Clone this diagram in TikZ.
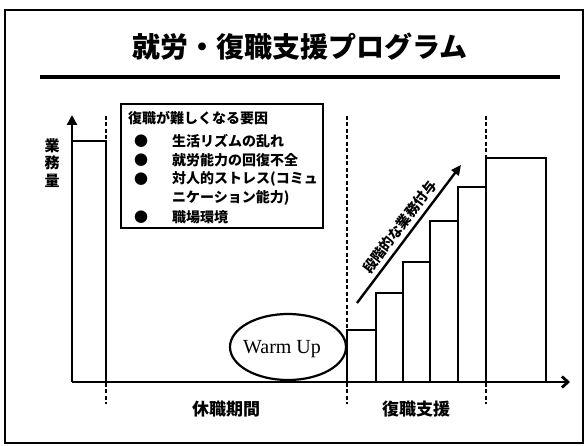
\documentclass[tikz,border=0pt]{standalone}
\usepackage{fontspec}
\setmainfont{Liberation Serif}
\newfontfamily\cjk{Noto Sans CJK JP}
\usetikzlibrary{arrows.meta,shapes.geometric}
\begin{document}
\begin{tikzpicture}[x=1pt,y=-1pt,
  jt/.style={font=\cjk\bfseries\fontsize{14}{14}\selectfont, inner sep=0pt, anchor=west},
  ax/.style={line width=2.8pt},
  dsh/.style={line width=2.8pt, dash pattern=on 4pt off 2.5pt},
  bar/.style={draw, line width=2.4pt}]
\useasboundingbox (0,0) rectangle (585,446);
\draw[line width=2pt] (5,10) rectangle (583,443);
\node[font=\cjk\bfseries\fontsize{28}{28}\selectfont, inner sep=0pt] (title) at (300,47) {就労・復職支援プログラム};
\draw[line width=3.2pt] (40,77) -- (560,77);
% axes
\coordinate (O) at (72,382);
\coordinate (Ytip) at (72,115);
\coordinate (Xtip) at (570,382);
\draw[ax,-{Triangle[length=10pt,width=10pt]}] (O) -- (Ytip);
\draw[ax,-{Straight Barb[length=6pt,width=11pt]}] (O) -- (Xtip);
\node[font=\cjk\bfseries\fontsize{15}{17.5}\selectfont, align=center, inner sep=0pt] (ylab) at (52,163) {業\\務\\量};
% initial level
\draw[ax] (72,141) -- (106,141) -- (106,382);
% dashed separators
\coordinate (d1t) at (106,116); \coordinate (d1b) at (106,404);
\coordinate (d2t) at (347,116); \coordinate (d2b) at (347,404);
\coordinate (d3t) at (486,116); \coordinate (d3b) at (486,404);
\draw[dsh] (d1t) -- (d1b);
\draw[dsh] (d2t) -- (d2b);
\draw[dsh] (d3t) -- (d3b);
% factors box
\draw[line width=2.8pt] (121,104) rectangle (323,228);
\node[jt] (f0) at (128,118) {復職が難しくなる要因};
\node[jt] (b1) at (134,141) {●};
\node[jt] (b2) at (134,160) {●};
\node[jt] (b3) at (134,179) {●};
\node[jt] (b4) at (134,217) {●};
\node[jt] (f1) at (172,141) {生活リズムの乱れ};
\node[jt] (f2) at (172,160) {就労能力の回復不全};
\node[jt] (f3) at (172,179) {対人的ストレス(コミュ};
\node[jt] (f4) at (172,198) {ニケーション能力)};
\node[jt] (f5) at (172,217) {職場環境};
% bars
\draw[bar] (347,382) rectangle (376,330);
\draw[bar] (376,382) rectangle (403,293);
\draw[bar] (403,382) rectangle (430,262);
\draw[bar] (430,382) rectangle (458,221);
\draw[bar] (458,382) rectangle (486,187);
\draw[bar] (486,382) rectangle (546,158);
% diagonal arrow
\coordinate (as) at (357,303);
\coordinate (ae) at (461,165);
\draw[line width=2.4pt,-{Triangle[length=10pt,width=9pt]}] (as) -- (ae)
  node[midway, sloped, above=4pt, font=\cjk\bfseries\fontsize{14}{14}\selectfont, inner sep=0pt] (lab) {段階的な業務付与};
% warm up
\node[draw, ellipse, line width=2.2pt, minimum width=116pt, minimum height=66pt, inner sep=0pt] (wu) at (288,347) {};
\node[font=\fontsize{20}{20}\selectfont, inner sep=0pt] (wut) at (282,349) {Warm Up};
% bottom labels
\node[font=\cjk\bfseries\fontsize{17}{17}\selectfont, inner sep=0pt] (p1) at (226,409) {休職期間};
\node[font=\cjk\bfseries\fontsize{17}{17}\selectfont, inner sep=0pt] (p2) at (416,409) {復職支援};
\end{tikzpicture}
\end{document}
